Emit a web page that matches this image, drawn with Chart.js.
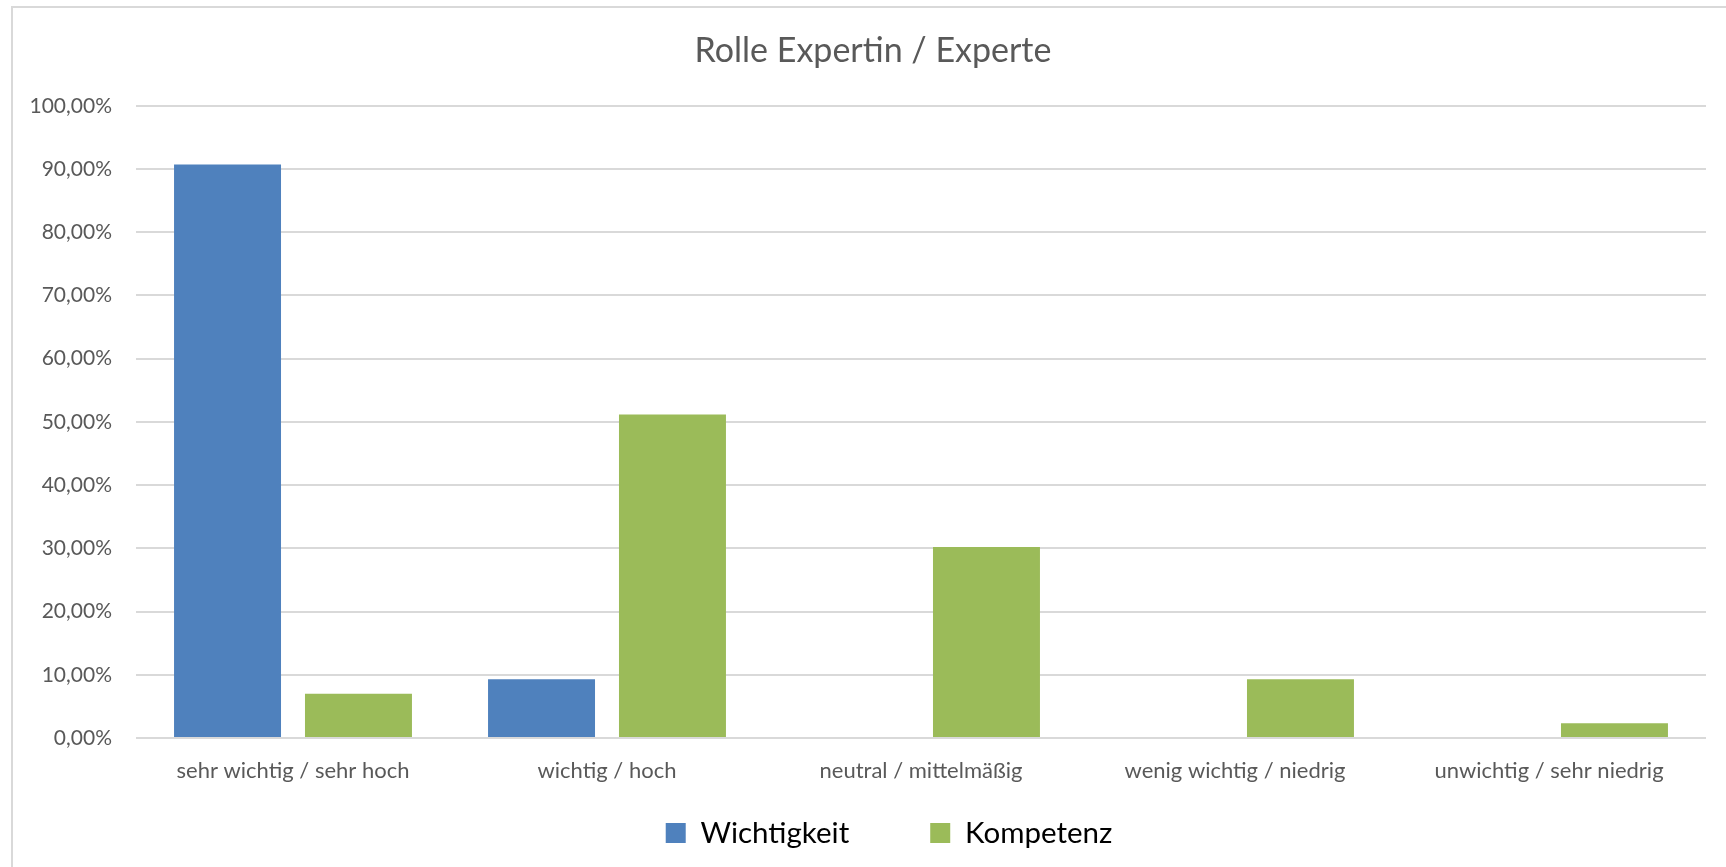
<!DOCTYPE html>
<html>
<head>
<meta charset="utf-8">
<script src="https://cdn.jsdelivr.net/npm/chart.js@4.4.1/dist/chart.umd.min.js"></script>
<style>
  html, body { margin: 0; padding: 0; background: #fff; overflow: hidden; }
  #wrap { position: relative; width: 1726px; height: 867px; }
  #frame { position: absolute; left: 11px; top: 6px; width: 2000px; height: 2000px;
           border-left: 2px solid #D9D9D9; border-top: 2px solid #D9D9D9; box-sizing: border-box; pointer-events: none; }
  canvas { position: absolute; left: 0; top: 0; }
</style>
</head>
<body>
<div id="wrap">
  <div id="frame"></div>
  <canvas id="c" width="1726" height="867"></canvas>
</div>
<script>
const chartTitle = 'Rolle Expertin / Experte';
const categories = ['sehr wichtig / sehr hoch', 'wichtig / hoch', 'neutral / mittelmäßig', 'wenig wichtig / niedrig', 'unwichtig / sehr niedrig'];
const seriesNames = ['Wichtigkeit', 'Kompetenz'];
const wichtigkeit = [0.9070, 0.0930, 0, 0, 0];
const kompetenz = [0.0698, 0.5116, 0.3023, 0.0930, 0.0233];
const yTickValues = [0, 0.1, 0.2, 0.3, 0.4, 0.5, 0.6, 0.7, 0.8, 0.9, 1.0];
const yTickLabels = ['0,00%', '10,00%', '20,00%', '30,00%', '40,00%', '50,00%', '60,00%', '70,00%', '80,00%', '90,00%', '100,00%'];

const FONT = 'Lato, "Open Sans", "Noto Sans", sans-serif';
const LEGEND_FONT = 29.5;
const LEGEND_GAP = 81;

// place legend / title boxes after layout (horizontal centre & vertical row)
const placeBoxes = {
  id: 'placeBoxes',
  afterLayout(chart) {
    const lg = chart.legend;
    if (lg) {
      const top = 833 - LEGEND_GAP - LEGEND_FONT / 2;
      lg.top = top;
      lg.height = lg.bottom - top;
      lg.left += 22; lg.right += 22;
    }
    const tb = chart.titleBlock;
    if (tb) { tb.left += 6; tb.right += 6; }
  }
};

new Chart(document.getElementById('c'), {
  type: 'bar',
  data: {
    labels: categories,
    datasets: [
      { label: seriesNames[0], data: wichtigkeit, backgroundColor: '#4F81BD', borderWidth: 0,
        categoryPercentage: 0.834, barPercentage: 0.817 },
      { label: seriesNames[1], data: kompetenz, backgroundColor: '#9BBB59', borderWidth: 0,
        categoryPercentage: 0.834, barPercentage: 0.817 }
    ]
  },
  plugins: [placeBoxes],
  options: {
    responsive: false,
    devicePixelRatio: 1,
    animation: false,
    layout: { padding: { left: 28, right: 20, top: 6, bottom: 5 } },
    plugins: {
      tooltip: { enabled: false },
      title: {
        display: true, text: chartTitle, color: '#595959',
        font: { family: FONT, size: 34, weight: 'normal' },
        padding: { top: 25, bottom: 34 }
      },
      legend: {
        position: 'bottom',
        maxHeight: 74,
        labels: {
          boxWidth: 20, boxHeight: 20, padding: LEGEND_GAP, color: '#000000',
          font: { family: FONT, size: LEGEND_FONT }
        }
      }
    },
    scales: {
      x: {
        grid: { display: false, drawTicks: false },
        border: { display: false },
        ticks: { color: '#595959', font: { family: FONT, size: 22 }, padding: 20, maxRotation: 0, autoSkip: false },
        afterFit: (s) => { s.height = 50; }
      },
      y: {
        min: 0, max: 1,
        afterBuildTicks: (s) => { s.ticks = yTickValues.map(v => ({ value: v })); },
        grid: { color: '#D9D9D9', lineWidth: 2, drawTicks: false },
        border: { display: false },
        ticks: {
          color: '#595959', font: { family: FONT, size: 21 }, padding: 24,
          callback: (v, i) => yTickLabels[i]
        },
        afterFit: (s) => { s.width = 108; }
      }
    }
  }
});
</script>
</body>
</html>
